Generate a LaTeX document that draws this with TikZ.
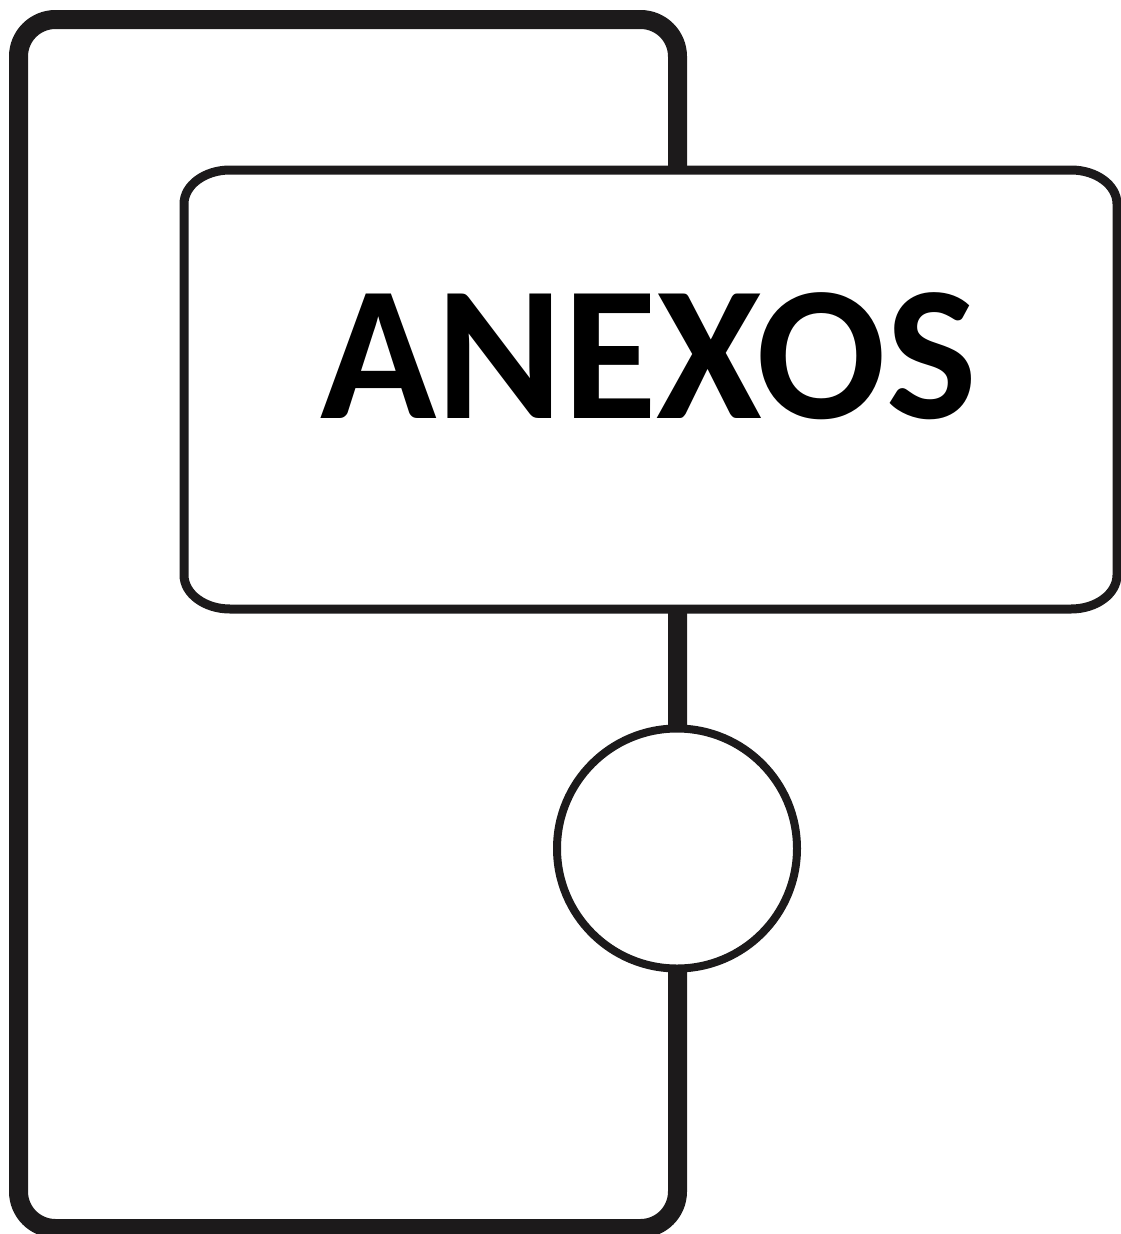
\documentclass[tikz,border=0pt]{standalone}
\usepackage{fontspec}
\newfontfamily\carl{Carlito}
\definecolor{ink}{HTML}{1C1A1B}
\begin{document}
\begin{tikzpicture}[x=1pt,y=-1pt,
  outerline/.style={draw=ink,line width=19pt},
  boxline/.style={draw=ink,line width=9pt,fill=white},
  ringline/.style={draw=ink,line width=8pt,fill=white},
  title/.style={font=\carl\bfseries\fontsize{192}{200}\selectfont,text=black,inner sep=0pt}]
\useasboundingbox (0,0) rectangle (1121,1234);
% outer frame
\draw[outerline,rounded corners=37pt] (18.5,19.5) rectangle (677.5,1228.5);
% inner box with elliptical corners
\def\L{184}\def\R{1117}\def\T{170}\def\B{609}\def\rx{46}\def\ry{34}
\path[boxline]
  (\L+\rx,\T) -- (\R-\rx,\T)
  .. controls (\R-\rx+0.552*\rx,\T) and (\R,\T+\ry-0.552*\ry) .. (\R,\T+\ry)
  -- (\R,\B-\ry)
  .. controls (\R,\B-\ry+0.552*\ry) and (\R-\rx+0.552*\rx,\B) .. (\R-\rx,\B)
  -- (\L+\rx,\B)
  .. controls (\L+\rx-0.552*\rx,\B) and (\L,\B-\ry+0.552*\ry) .. (\L,\B-\ry)
  -- (\L,\T+\ry)
  .. controls (\L,\T+\ry-0.552*\ry) and (\L+\rx-0.552*\rx,\T) .. (\L+\rx,\T) -- cycle;
\node[title,anchor=base] (t) at (648.5,418) {ANEXOS};
% circle
\node[circle,ringline,minimum size=240pt,inner sep=0pt] (c) at (677,848.5) {};
\end{tikzpicture}
\end{document}
